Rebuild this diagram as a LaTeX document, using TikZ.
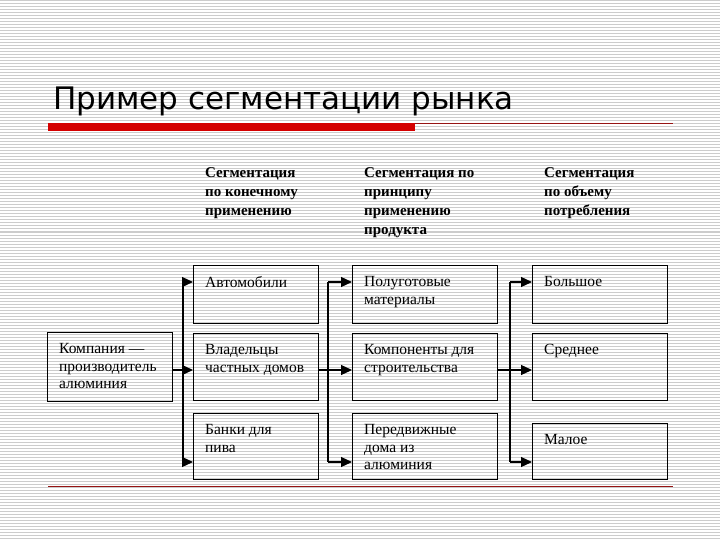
\documentclass[tikz,border=0pt]{standalone}
\usepackage{fontspec}
\setmainfont{Liberation Serif}
\newfontfamily\titlefont{DejaVu Sans}
\usetikzlibrary{arrows.meta,positioning}

\definecolor{barred}{RGB}{212,0,0}
\definecolor{rulered}{RGB}{150,20,20}

\begin{document}
\begin{tikzpicture}[
  x=1pt, y=-1pt,
  font=\fontsize{15.5}{17.8}\selectfont,
  stripe/.style={black!20, line width=1pt},
  box/.style={draw, line width=1.2pt, inner sep=0pt, anchor=north west},
  txt/.style={anchor=north west, align=left, inner sep=0pt, xshift=12pt, yshift=-11pt},
  head/.style={anchor=north west, align=left, inner sep=0pt, font=\fontsize{15}{19}\selectfont\bfseries},
  conn/.style={line width=1.2pt},
  arr/.style={conn, -{Triangle[length=11pt, width=10pt]}}
]
\useasboundingbox (0,0) rectangle (720,540);

% ---------- Background stripes ----------
\fill[white] (0,0) rectangle (720,540);
\foreach \y in {1,4,...,540} \draw[stripe] (0,\y) -- (720,\y);

% ---------- Title ----------
\node[anchor=base west, inner sep=0pt, font=\titlefont\fontsize{31}{36}\selectfont] (title) at (53,110) {Пример сегментации рынка};
\fill[barred] (48,123) rectangle (415,131);
\draw[rulered, line width=1pt] (415,124) -- (673,124);
\draw[rulered, line width=1pt] (48,486) -- (673,486);

% ---------- Column headers ----------
\node[head] (head1) at (205,167) {Сегментация\\по конечному\\применению};
\node[head] (head2) at (364,167) {Сегментация по\\принципу\\применению\\продукта};
\node[head] (head3) at (544,167) {Сегментация\\по объему\\потребления};

% ---------- Company ----------
\node[box, minimum width=125pt, minimum height=69pt, label={[txt]north west:{Компания —\\производитель\\алюминия}}] (company) at (47,332) {};

% ---------- Column 1: end use ----------
\node[box, minimum width=125pt, minimum height=58pt, label={[txt]north west:Автомобили}] (cars) at (193,265) {};
\node[box, minimum width=125pt, minimum height=67pt, label={[txt]north west:{Владельцы\\частных домов}}] (homes) at (193,333) {};
\node[box, minimum width=125pt, minimum height=66pt, label={[txt]north west:{Банки для\\пива}}] (cans) at (193,413) {};

% ---------- Column 2: product use ----------
\node[box, minimum width=145pt, minimum height=58pt, label={[txt]north west:{Полуготовые\\материалы}}] (semi) at (352,265) {};
\node[box, minimum width=145pt, minimum height=67pt, label={[txt]north west:{Компоненты для\\строительства}}] (parts) at (352,333) {};
\node[box, minimum width=145pt, minimum height=66pt, label={[txt]north west:{Передвижные\\дома из\\алюминия}}] (mobile) at (352,413) {};

% ---------- Column 3: volume ----------
\node[box, minimum width=135pt, minimum height=58pt, label={[txt]north west:Большое}] (large) at (532,265) {};
\node[box, minimum width=135pt, minimum height=67pt, label={[txt]north west:Среднее}] (medium) at (532,333) {};
\node[box, minimum width=135pt, minimum height=56pt, label={[txt]north west:Малое}] (small) at (532,423) {};

% ---------- Bus coordinates ----------
\coordinate (busA) at (183,370);
\coordinate (busAtop) at (183,282);
\coordinate (busAbot) at (183,462);
\coordinate (busB) at (328,370);
\coordinate (busBtop) at (328,282);
\coordinate (busBbot) at (328,462);
\coordinate (busC) at (510,370);
\coordinate (busCtop) at (510,282);
\coordinate (busCbot) at (510,462);

% ---------- Arrows ----------
\draw[conn] (company.east |- busA) -- (busA);
\draw[conn] (busAtop) -- (busAbot);
\draw[arr] (busAtop) -- (busAtop -| cars.west);
\draw[arr] (busA) -- (busA -| homes.west);
\draw[arr] (busAbot) -- (busAbot -| cans.west);

\draw[conn] (homes.east |- busB) -- (busB);
\draw[conn] (busBtop) -- (busBbot);
\draw[arr] (busBtop) -- (busBtop -| semi.west);
\draw[arr] (busB) -- (busB -| parts.west);
\draw[arr] (busBbot) -- (busBbot -| mobile.west);

\draw[conn] (parts.east |- busC) -- (busC);
\draw[conn] (busCtop) -- (busCbot);
\draw[arr] (busCtop) -- (busCtop -| large.west);
\draw[arr] (busC) -- (busC -| medium.west);
\draw[arr] (busCbot) -- (busCbot -| small.west);

\end{tikzpicture}
\end{document}
